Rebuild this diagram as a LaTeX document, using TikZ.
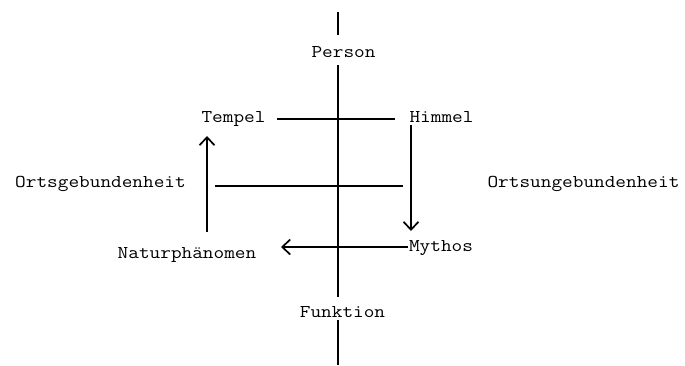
\documentclass[tikz,border=0pt]{standalone}
\usepackage{fontspec}
\usepackage{graphicx}
\usetikzlibrary{arrows.meta}
\newcommand\twtext[1]{\scalebox{1.15}[1]{#1}}
\begin{document}
\begin{tikzpicture}[x=1pt,y=-1pt,
  lbl/.style={font=\ttfamily\fontsize{18}{20}\selectfont,inner sep=0pt,anchor=base},
  ln/.style={line width=1.7pt,line cap=butt},
  arr/.style={ln,-{Straight Barb[length=8pt,width=15pt,line width=1.7pt]}}]
\useasboundingbox (0,0) rectangle (685,365);
% labels
\node[lbl] (person) at (343.5,57) {\twtext{Person}};
\node[lbl] (funktion) at (342.5,317) {\twtext{Funktion}};
\node[lbl] (tempel) at (233.5,122) {\twtext{Tempel}};
\node[lbl] (himmel) at (441.5,122) {\twtext{Himmel}};
\node[lbl] (ortsg) at (100.5,187) {\twtext{Ortsgebundenheit}};
\node[lbl] (ortsu) at (583.5,187) {\twtext{Ortsungebundenheit}};
\node[lbl] (mythos) at (441,251) {\twtext{Mythos}};
\node[lbl] (natur) at (187,258) {\twtext{Naturphänomen}};
% coordinates
\coordinate (t1) at (338,12);
\coordinate (t2) at (338,35);
\coordinate (v1) at (338,65);
\coordinate (v2) at (338,297);
\coordinate (b1) at (338,320);
\coordinate (b2) at (338,365);
\coordinate (h1) at (277,119);
\coordinate (h2) at (395,119);
\coordinate (o1) at (215,186);
\coordinate (o2) at (403,186);
\coordinate (d1) at (411,125);
\coordinate (d2) at (411,231);
\coordinate (u1) at (207,232);
\coordinate (u2) at (207,136);
\coordinate (m1) at (408,247);
\coordinate (m2) at (281,247);
% lines
\draw[ln] (t1) -- (t2);
\draw[ln] (v1) -- (v2);
\draw[ln] (b1) -- (b2);
\draw[ln] (h1) -- (h2);
\draw[ln] (o1) -- (o2);
\draw[arr] (d1) -- (d2);
\draw[arr] (u1) -- (u2);
\draw[arr] (m1) -- (m2);
\end{tikzpicture}
\end{document}
